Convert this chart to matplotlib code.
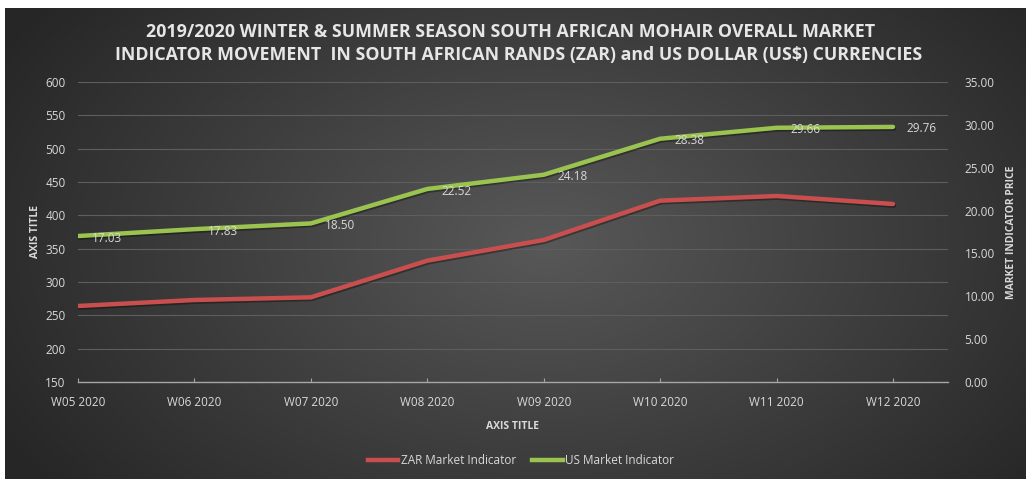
import numpy as np
import matplotlib
matplotlib.use("Agg")
import matplotlib.pyplot as plt
import matplotlib.patheffects as pe
from matplotlib.lines import Line2D

categories = ["W05 2020", "W06 2020", "W07 2020", "W08 2020", "W09 2020", "W10 2020", "W11 2020", "W12 2020"]
zar_values = [264, 273, 277, 332, 363, 422, 429, 417]
us_values = [17.03, 17.83, 18.50, 22.52, 24.18, 28.38, 29.66, 29.76]
us_labels = ["17.03", "17.83", "18.50", "22.52", "24.18", "28.38", "29.66", "29.76"]
left_ticks = [150, 200, 250, 300, 350, 400, 450, 500, 550, 600]
right_ticks = [0, 5, 10, 15, 20, 25, 30, 35]

W, H = 1026, 479
fig = plt.figure(figsize=(W / 100, H / 100), dpi=100)
fig.patch.set_facecolor("white")
plt.rcParams["font.family"] = ["Open Sans", "DejaVu Sans"]

# background with radial gradient
bg = fig.add_axes([5 / W, 0, 1 - 5 / W, 471 / H])
bg.set_axis_off()
nx, ny = 400, 200
xx, yy = np.meshgrid(np.linspace(0, 1, nx), np.linspace(0, 1, ny))
d = np.sqrt(((xx - 0.53) / 0.62) ** 2 + ((yy - 0.5) / 0.85) ** 2)
d = np.clip(d, 0, 1)
c_center = np.array([0x58, 0x58, 0x58]) / 255
c_edge = np.array([0x26, 0x26, 0x26]) / 255
img = c_center[None, None, :] * (1 - d[..., None]) + c_edge[None, None, :] * d[..., None]
bg.imshow(img, extent=[0, 1, 0, 1], aspect="auto", origin="lower")
bg.set_xlim(0, 1)
bg.set_ylim(0, 1)

# main axes
x0, x1 = 78, 948
y_top, y_bot = 82, 382
ax = fig.add_axes([x0 / W, (H - y_bot) / H, (x1 - x0) / W, (y_bot - y_top) / H])
ax.set_facecolor("none")
ax2 = ax.twinx()
ax2.set_facecolor("none")

xs = np.arange(len(categories))
spacing = (893 - 78) / 7.0
ax.set_xlim(0, (x1 - x0) / spacing)
ax.set_ylim(150, 600)
ax2.set_ylim(0, 35)

red = "#c94f4f"
green = "#9bc34f"
shadow = [pe.SimpleLineShadow(offset=(0.7, -1.2), shadow_color="black", alpha=0.35), pe.Normal()]
ax.plot(xs, zar_values, color=red, lw=3.2, solid_capstyle="round", zorder=3, path_effects=shadow)
ax2.plot(xs, us_values, color=green, lw=3.2, solid_capstyle="round", zorder=3, path_effects=shadow)

txt_col = "#d9d9d9"
for xi, v, lab in zip(xs, us_values, us_labels):
    ax2.annotate(lab, (xi, v), xytext=(10, -1.5), textcoords="offset points",
                 ha="left", va="center", color=txt_col, fontsize=8.5)

ax.set_yticks(left_ticks)
ax2.set_yticks(right_ticks)
ax2.set_yticklabels([f"{t:.2f}" for t in right_ticks])
ax.set_xticks(xs)
ax.set_xticklabels(categories)

ax.grid(axis="y", color="#5e5e5e", lw=0.8)
ax.set_axisbelow(True)
for a in (ax, ax2):
    for s in a.spines.values():
        s.set_visible(False)
ax.spines["bottom"].set_visible(True)
ax.spines["bottom"].set_color("#a6a6a6")
ax.spines["bottom"].set_linewidth(1.0)

ax.tick_params(axis="x", colors="#a6a6a6", labelcolor=txt_col, labelsize=8.5, direction="in", length=3, pad=10)
ax.tick_params(axis="y", length=0, labelcolor=txt_col, labelsize=8.5, pad=9)
ax2.tick_params(axis="y", length=0, labelcolor=txt_col, labelsize=8.5, pad=12)

ax.set_xlabel("AXIS TITLE", color=txt_col, fontsize=7.5, fontweight="bold", labelpad=9)
ax.set_ylabel("AXIS TITLE", color=txt_col, fontsize=7.5, fontweight="bold", labelpad=3)
ax2.set_ylabel("MARKET INDICATOR PRICE", color=txt_col, fontsize=7.5, fontweight="bold", labelpad=8)

fig.text(511 / W, 1 - 32 / H, "2019/2020 WINTER & SUMMER SEASON SOUTH AFRICAN MOHAIR OVERALL MARKET",
         ha="center", va="center", color="#e6e6e6", fontsize=12.8, fontweight="bold")
fig.text(519 / W, 1 - 55 / H, "INDICATOR MOVEMENT  IN SOUTH AFRICAN RANDS (ZAR) and US DOLLAR (US$) CURRENCIES",
         ha="center", va="center", color="#e6e6e6", fontsize=12.8, fontweight="bold")

handles = [Line2D([0], [0], color=red, lw=3.2), Line2D([0], [0], color=green, lw=3.2)]
leg = fig.legend(handles, ["ZAR Market Indicator", "US Market Indicator"], loc="center",
                 bbox_to_anchor=(521 / W, 1 - 461 / H), ncol=2, frameon=False, fontsize=8.5,
                 handlelength=2.6, handletextpad=0.2, columnspacing=1.4, labelcolor=txt_col)

fig.savefig("out.png", dpi=100, facecolor=fig.get_facecolor())
